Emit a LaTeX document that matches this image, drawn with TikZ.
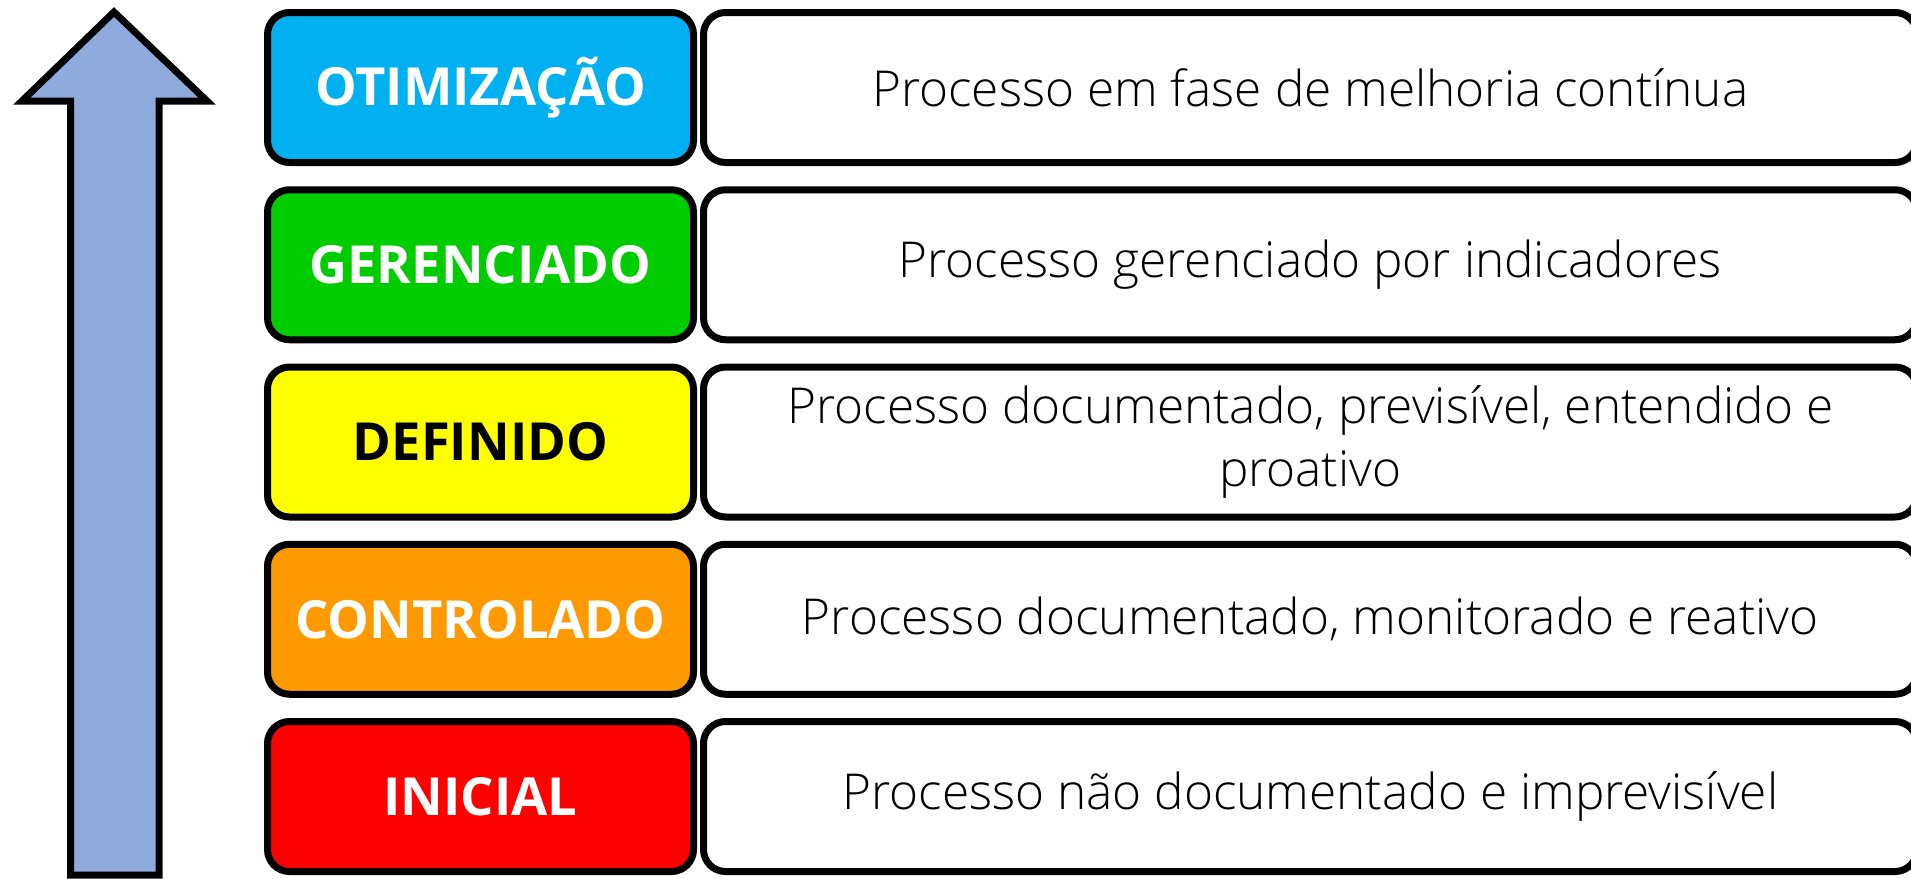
\documentclass[tikz,border=0pt]{standalone}
\usepackage{fontspec}
\setmainfont{Open Sans}
\newfontfamily\lightfont{Open Sans Light}
\definecolor{cblue}{HTML}{00B0F0}
\definecolor{cgreen}{HTML}{00CC00}
\definecolor{cyellow}{HTML}{FFFF00}
\definecolor{corange}{HTML}{FF9900}
\definecolor{cred}{HTML}{FF0000}
\definecolor{carrow}{HTML}{8FAADC}
\begin{document}
\begin{tikzpicture}[x=1pt,y=-1pt,line width=7pt,
  levelbox/.style={draw=black,rounded corners=22pt,minimum width=426pt,minimum height=150pt,
    inner sep=0pt,text=white,font=\bfseries\fontsize{52.5}{58}\selectfont},
  descbox/.style={draw=black,fill=white,rounded corners=22pt,minimum width=1213.5pt,minimum height=150pt,
    inner sep=0pt,align=center,font=\lightfont\fontsize{49.5}{63}\selectfont}]
\clip (0,0) rectangle (1911,878);
\fill[white] (0,0) rectangle (1911,878);
% arrow
\draw[fill=carrow,line join=miter,miter limit=10]
  (70.5,875) -- (70.5,101) -- (22,101) -- (114,12) -- (207,101) -- (159,101) -- (159,875) -- cycle;
% levels
\node[levelbox,fill=cblue]   (l1) at (480.5,87.5)   {OTIMIZAÇÃO};
\node[levelbox,fill=cgreen]  (l2) at (480.5,264.75) {GERENCIADO};
\node[levelbox,fill=cyellow,text=black] (l3) at (480.5,442) {DEFINIDO};
\node[levelbox,fill=corange] (l4) at (480.5,619.25) {CONTROLADO};
\node[levelbox,fill=cred]    (l5) at (480.5,796.5)  {INICIAL};
% descriptions
\node[descbox] (d1) at (1310.25,87.5)   {Processo em fase de melhoria contínua};
\node[descbox] (d2) at (1310.25,264.75) {Processo gerenciado por indicadores};
\node[descbox] (d3) at (1310.25,442)    {Processo documentado, previsível, entendido e\\proativo};
\node[descbox] (d4) at (1310.25,619.25) {Processo documentado, monitorado e reativo};
\node[descbox] (d5) at (1310.25,796.5)  {Processo não documentado e imprevisível};
\end{tikzpicture}
\end{document}
